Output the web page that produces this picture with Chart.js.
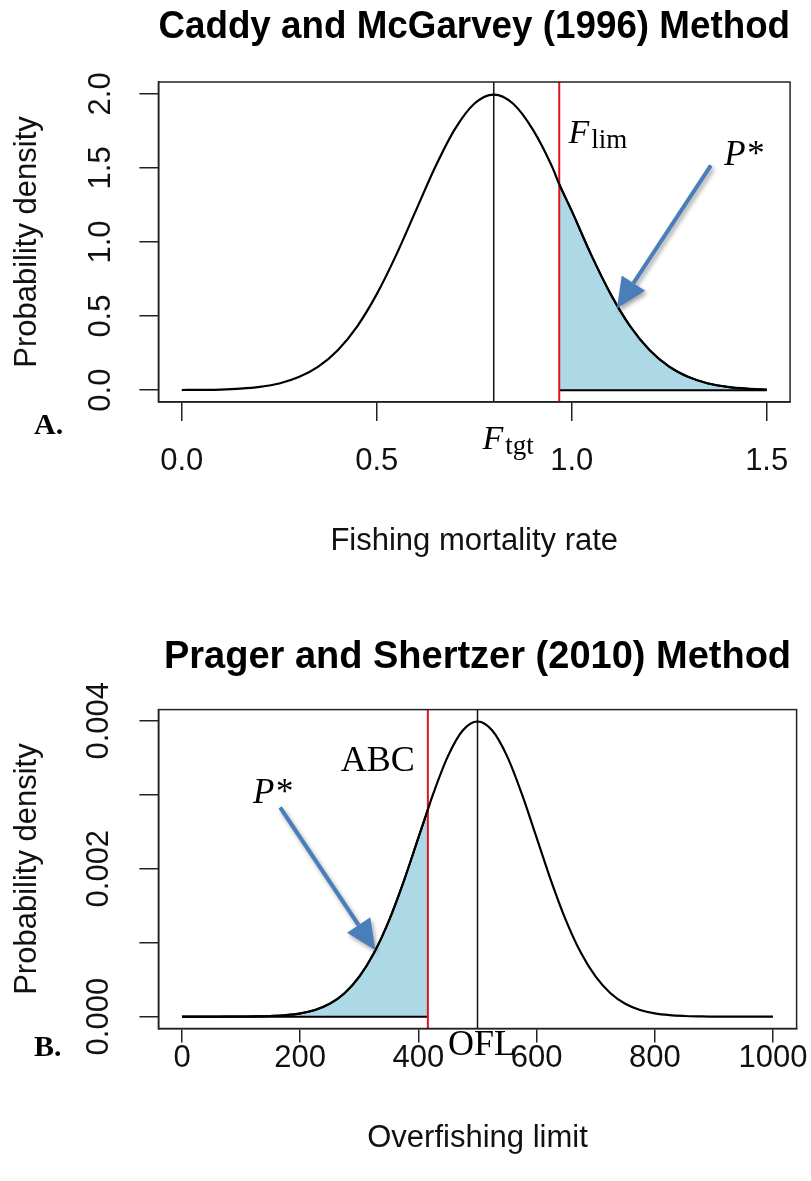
<!DOCTYPE html>
<html>
<head>
<meta charset="utf-8">
<script src="https://cdn.jsdelivr.net/npm/chart.js@4.4.1/dist/chart.umd.min.js"></script>
<style>
  html, body { margin: 0; padding: 0; background: #fff; }
  #wrap { position: relative; width: 811px; height: 1181px; }
  canvas { position: absolute; left: 0; }
  #chartA { top: 0; }
  #chartB { top: 590px; }
</style>
</head>
<body>
<div id="wrap">
  <canvas id="chartA" width="811" height="590"></canvas>
  <canvas id="chartB" width="811" height="591"></canvas>
</div>
<script>
// panel A - Caddy and McGarvey (1996)
const fishingRate = [0, 0.05, 0.1, 0.15, 0.2, 0.25, 0.3, 0.35, 0.4, 0.45, 0.5, 0.55, 0.6, 0.65, 0.7, 0.75,
  0.8, 0.85, 0.9, 0.95, 1.0, 1.05, 1.1, 1.15, 1.2, 1.25, 1.3, 1.35, 1.4, 1.45, 1.5];
const densityA = [0.001, 0.002, 0.004, 0.010, 0.022, 0.045, 0.088, 0.159, 0.270, 0.431, 0.648, 0.913, 1.210, 1.506, 1.760, 1.933,
  1.995, 1.933, 1.760, 1.506, 1.210, 0.913, 0.648, 0.431, 0.270, 0.159, 0.088, 0.045, 0.022, 0.010, 0.004];
const fTarget = 0.8;
const fLimit = 0.968;
const densityAtLimit = 1.39;
const xTicksA = [0, 0.5, 1.0, 1.5];
const xLabelsA = ['0.0', '0.5', '1.0', '1.5'];
const yTicksA = [0, 0.5, 1.0, 1.5, 2.0];
const yLabelsA = ['0.0', '0.5', '1.0', '1.5', '2.0'];

// panel B - Prager and Shertzer (2010)
const overfishing = [0, 25, 50, 75, 100, 125, 150, 175, 200, 225, 250, 275, 300, 325, 350, 375, 400, 425, 450, 475,
  500, 525, 550, 575, 600, 625, 650, 675, 700, 725, 750, 775, 800, 825, 850, 875, 900, 925, 950, 975, 1000];
const densityB = [0, 0, 0, 0.000001, 0.000001, 0.000004, 0.000009, 0.00002, 0.000044, 0.000091, 0.000175, 0.000317,
  0.00054, 0.000863, 0.001295, 0.001826, 0.00242, 0.003011, 0.003521, 0.003867, 0.003989,
  0.003867, 0.003521, 0.003011, 0.00242, 0.001826, 0.001295, 0.000863, 0.00054, 0.000317, 0.000175,
  0.000091, 0.000044, 0.00002, 0.000009, 0.000004, 0.000001, 0.000001, 0, 0, 0];
const oflValue = 500;
const abcValue = 416;
const densityAtAbc = 0.0028;
const xTicksB = [0, 200, 400, 600, 800, 1000];
const xLabelsB = ['0', '200', '400', '600', '800', '1000'];
const yTicksB = [0, 0.001, 0.002, 0.003, 0.004];
const yLabelsB = ['0.000', '', '0.002', '', '0.004'];

Chart.defaults.font.family = 'Liberation Sans';

function toPoints(xs, ys, extraX, extraY) {
  const pts = xs.map((x, i) => ({ x: x, y: ys[i] }));
  pts.push({ x: extraX, y: extraY });
  return pts.sort((a, b) => a.x - b.x);
}

function drawArrow(ctx, x1, y1, x2, y2) {
  const ang = Math.atan2(y2 - y1, x2 - x1);
  const head = 30, half = 14;
  const bx = x2 - head * Math.cos(ang), by = y2 - head * Math.sin(ang);
  ctx.save();
  ctx.shadowColor = 'rgba(0,0,0,0.35)';
  ctx.shadowBlur = 4;
  ctx.shadowOffsetX = 2;
  ctx.shadowOffsetY = 3;
  ctx.strokeStyle = '#4A7EBB';
  ctx.fillStyle = '#4A7EBB';
  ctx.lineWidth = 4;
  ctx.beginPath();
  ctx.moveTo(x1, y1);
  ctx.lineTo(bx, by);
  ctx.stroke();
  ctx.beginPath();
  ctx.moveTo(x2, y2);
  ctx.lineTo(bx - half * Math.sin(ang), by + half * Math.cos(ang));
  ctx.lineTo(bx + half * Math.sin(ang), by - half * Math.cos(ang));
  ctx.closePath();
  ctx.fill();
  ctx.restore();
}

// italic letter with an upright subscript, or plain text
function drawLabel(ctx, x, y, main, sub, italic, size, align) {
  ctx.save();
  ctx.fillStyle = '#000';
  ctx.textBaseline = 'alphabetic';
  const mainFont = (italic ? 'italic ' : '') + size + 'px "Liberation Serif"';
  const subFont = Math.round(size * 0.8) + 'px "Liberation Serif"';
  ctx.font = mainFont;
  const w = ctx.measureText(main).width;
  let subW = 0;
  if (sub) {
    ctx.font = subFont;
    subW = ctx.measureText(sub).width;
  }
  const left = align === 'right' ? x - w - subW : x;
  ctx.font = mainFont;
  ctx.fillText(main, left, y);
  if (sub) {
    ctx.font = subFont;
    ctx.fillText(sub, left + w + 2, y + 5);
  }
  ctx.restore();
}

const annotate = {
  id: 'annotate',
  afterDatasetsDraw(chart, args, opts) {
    const { ctx, chartArea } = chart;
    const xs = chart.scales.x, ys = chart.scales.y;
    // box round the plot
    ctx.save();
    ctx.strokeStyle = '#222';
    ctx.lineWidth = 1.5;
    ctx.strokeRect(chartArea.left, chartArea.top, chartArea.right - chartArea.left, chartArea.bottom - chartArea.top);
    ctx.restore();
    opts.texts.forEach(t => {
      const px = xs.getPixelForValue(t.x);
      const py = t.below !== undefined ? chartArea.bottom + t.below : ys.getPixelForValue(t.y);
      drawLabel(ctx, px, py, t.main, t.sub, t.italic, t.size, t.align);
    });
    opts.arrows.forEach(a => {
      drawArrow(ctx, xs.getPixelForValue(a[0]), ys.getPixelForValue(a[1]), xs.getPixelForValue(a[2]), ys.getPixelForValue(a[3]));
    });
    ctx.save();
    ctx.fillStyle = '#000';
    ctx.font = 'bold 30px "Liberation Serif"';
    ctx.fillText(opts.panel, 34, chartArea.bottom + opts.panelY);
    ctx.restore();
  }
};

function makeChart(id, p) {
  const axisFont = { family: 'Liberation Sans', size: 31 };
  return new Chart(document.getElementById(id), {
    type: 'line',
    data: {
      datasets: [
        { data: p.curve, borderColor: '#000', borderWidth: 2.2, pointRadius: 0, cubicInterpolationMode: 'monotone', fill: false, order: 1 },
        { data: p.shade, borderColor: '#000', borderWidth: 2, backgroundColor: '#ADD8E6', pointRadius: 0, cubicInterpolationMode: 'monotone', fill: 'origin', order: 5 },
        { data: p.base, borderColor: '#000', borderWidth: 2, pointRadius: 0, order: 4 },
        { data: [{ x: p.center, y: p.yMin }, { x: p.center, y: p.yMax }], borderColor: '#111', borderWidth: 1.5, pointRadius: 0, order: 3 },
        { data: [{ x: p.limit, y: p.yMin }, { x: p.limit, y: p.yMax }], borderColor: '#E0141E', borderWidth: 2, pointRadius: 0, order: 2 }
      ]
    },
    options: {
      responsive: false,
      animation: false,
      events: [],
      layout: { padding: { left: 0, right: 14.4, top: 0, bottom: 0 } },
      plugins: {
        legend: { display: false },
        tooltip: { enabled: false },
        title: {
          display: true, text: p.title, fullSize: false, color: '#000',
          font: { family: 'Liberation Sans', size: 38, weight: 'bold' },
          padding: { top: p.titleTop, bottom: p.titleBottom }
        },
        annotate: { texts: p.texts, arrows: p.arrows, panel: p.panel, panelY: p.panelY }
      },
      scales: {
        x: {
          type: 'linear', min: p.xMin, max: p.xMax,
          afterFit(s) { s.height = p.xAxisHeight; },
          afterBuildTicks(s) { s.ticks = p.xTicks.map(v => ({ value: v })); },
          grid: { drawOnChartArea: false, drawTicks: true, tickLength: p.tickLen, color: '#222', lineWidth: 1.5 },
          border: { display: true, color: '#222', width: 1.5 },
          ticks: { font: axisFont, color: '#111', padding: p.xTickPad, maxRotation: 0, autoSkip: false, callback: (v, i) => p.xLabels[i] },
          title: { display: true, text: p.xTitle, font: axisFont, color: '#111', padding: { top: 0, bottom: p.xTitleBottom } }
        },
        y: {
          type: 'linear', min: p.yMin, max: p.yMax,
          afterFit(s) { s.width = 158.4; },
          afterBuildTicks(s) { s.ticks = p.yTicks.map(v => ({ value: v })); },
          grid: { drawOnChartArea: false, drawTicks: true, tickLength: 19, color: '#222', lineWidth: 1.5 },
          border: { display: true, color: '#222', width: 1.5 },
          ticks: { font: axisFont, color: '#111', padding: p.yTickPad, minRotation: 90, maxRotation: 90, crossAlign: 'center', autoSkip: false, callback: (v, i) => p.yLabels[i] },
          title: { display: true, text: 'Probability density', font: axisFont, color: '#111', padding: { top: 9, bottom: 0 } }
        }
      }
    },
    plugins: [annotate]
  });
}

// chart A
const curveA = toPoints(fishingRate, densityA, fLimit, densityAtLimit);
const chartA = makeChart('chartA', {
  title: 'Caddy and McGarvey (1996) Method',
  xTitle: 'Fishing mortality rate',
  curve: curveA,
  shade: curveA.filter(pt => pt.x >= fLimit),
  base: [{ x: fLimit, y: 0 }, { x: fishingRate[fishingRate.length - 1], y: 0 }],
  center: fTarget, limit: fLimit,
  xMin: -0.06, xMax: 1.56, yMin: -0.08, yMax: 2.08,
  xTicks: xTicksA, xLabels: xLabelsA, yTicks: yTicksA, yLabels: yLabelsA,
  titleTop: 5.2, titleBottom: 31.2,
  xAxisHeight: 188, tickLen: 19, xTickPad: 22, xTitleBottom: 30.4, yTickPad: 16,
  texts: [
    { x: 0.992, y: 1.665, main: 'F', sub: 'lim', italic: true, size: 34 },
    { x: 1.391, y: 1.517, main: 'P*', italic: true, size: 35 },
    { x: 0.771, below: 47, main: 'F', sub: 'tgt', italic: true, size: 34 }
  ],
  arrows: [[1.357, 1.517, 1.116, 0.553]],
  panel: 'A.', panelY: 32
});

// chart B
const curveB = toPoints(overfishing, densityB, abcValue, densityAtAbc);
const chartB = makeChart('chartB', {
  title: 'Prager and Shertzer (2010) Method',
  xTitle: 'Overfishing limit',
  curve: curveB,
  shade: curveB.filter(pt => pt.x <= abcValue),
  base: [{ x: overfishing[0], y: 0 }, { x: abcValue, y: 0 }],
  center: oflValue, limit: abcValue,
  xMin: -40, xMax: 1040, yMin: -0.00016, yMax: 0.00415,
  xTicks: xTicksB, xLabels: xLabelsB, yTicks: yTicksB, yLabels: yLabelsB,
  titleTop: 45.2, titleBottom: 28.8,
  xAxisHeight: 152.5, tickLen: 14, xTickPad: -3, xTitleBottom: 24.4, yTickPad: 1,
  texts: [
    { x: 394, y: 0.003325, main: 'ABC', italic: false, size: 36, align: 'right' },
    { x: 120, y: 0.00289, main: 'P*', italic: true, size: 35 },
    { x: 450, below: 26, main: 'OFL', italic: false, size: 36 }
  ],
  arrows: [[166, 0.00283, 327, 0.0009]],
  panel: 'B.', panelY: 27
});
</script>
</body>
</html>
